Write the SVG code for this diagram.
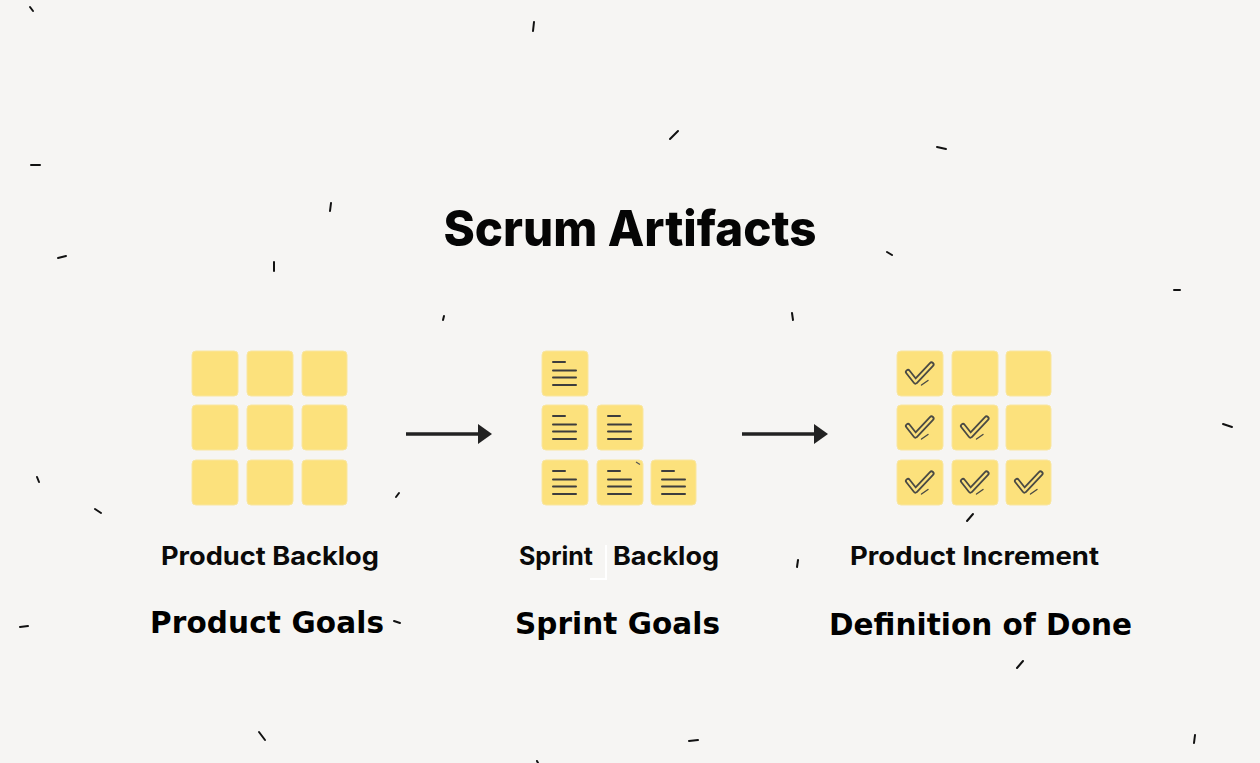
<svg xmlns="http://www.w3.org/2000/svg" width="1260" height="763" viewBox="0 0 1260 763">
<defs>
<style>
.tile{fill:#fce17c;stroke:#f9e6a0;stroke-width:1}
.ln{stroke:#3d3d3d;stroke-width:2;stroke-linecap:round}
.tk{stroke:#111;stroke-width:2;stroke-linecap:round}
.title{font-family:Inter,"Liberation Sans",sans-serif;font-weight:800;fill:#050505}
.lab{font-family:Inter,"Liberation Sans",sans-serif;font-weight:700;fill:#0a0a0a}
.goal{font-family:"DejaVu Sans",sans-serif;font-weight:700;fill:#000}
.chk{fill:none;stroke:#4a4a44;stroke-width:6;stroke-linecap:round;stroke-linejoin:round}
.chki{fill:none;stroke:#fce17c;stroke-width:2.4;stroke-linecap:round;stroke-linejoin:round}
.conn{stroke:#222;stroke-width:3.5}
</style>
<symbol id="lines" overflow="visible">
<line class="ln" x1="11" y1="11" x2="23" y2="11"/>
<line class="ln" x1="11" y1="19.5" x2="34" y2="19.5"/>
<line class="ln" x1="11" y1="26.5" x2="34" y2="26.5"/>
<line class="ln" x1="11" y1="34" x2="34" y2="34"/>
</symbol>
<symbol id="check" overflow="visible">
<path class="chk" d="M11 21 L18.5 30.5 L34.5 13.5"/>
<path class="chki" d="M11 21 L18.5 30.5 L34.5 13.5"/>
<line x1="24.5" y1="34" x2="31" y2="29.5" stroke="#4a4a44" stroke-width="1.4" stroke-linecap="round"/>
</symbol>
<marker id="ah" viewBox="0 0 14 20" refX="0" refY="10" markerWidth="14" markerHeight="20" orient="auto" markerUnits="userSpaceOnUse">
<path d="M0 0 L14 10 L0 20 Z" fill="#222"/>
</marker>
</defs>
<rect width="1260" height="763" fill="#f6f5f3"/>

<g id="decor">
<line class="tk" x1="30" y1="7" x2="33" y2="11"/>
<line class="tk" x1="534" y1="22" x2="533" y2="31"/>
<line class="tk" x1="670" y1="139" x2="678" y2="131"/>
<line class="tk" x1="31" y1="165" x2="40" y2="165"/>
<line class="tk" x1="937" y1="147" x2="946" y2="149"/>
<line class="tk" x1="331" y1="203" x2="330" y2="211"/>
<line class="tk" x1="58" y1="258" x2="66" y2="256"/>
<line class="tk" x1="274" y1="262" x2="274" y2="271"/>
<line class="tk" x1="887" y1="252" x2="892" y2="255" stroke-width="1.5"/>
<line class="tk" x1="1174" y1="290" x2="1180" y2="290" stroke-width="1.5"/>
<line class="tk" x1="444" y1="316" x2="443" y2="320" stroke-width="1.5"/>
<line class="tk" x1="792" y1="313" x2="793" y2="320" stroke-width="1.5"/>
<line class="tk" x1="1223" y1="424" x2="1232" y2="427"/>
<line class="tk" x1="37" y1="477" x2="39" y2="482" stroke-width="1.5"/>
<line class="tk" x1="95" y1="509" x2="101" y2="513"/>
<line class="tk" x1="396" y1="497" x2="399" y2="493" stroke-width="1.5"/>
<line class="tk" x1="967" y1="521" x2="973" y2="514"/>
<line class="tk" x1="798" y1="560" x2="797" y2="567"/>
<line class="tk" x1="20" y1="627" x2="28" y2="626"/>
<line class="tk" x1="394" y1="621" x2="400" y2="623" stroke-width="1.5"/>
<line class="tk" x1="1017" y1="668" x2="1023" y2="661"/>
<line class="tk" x1="259" y1="732" x2="265" y2="740"/>
<line class="tk" x1="689" y1="741" x2="698" y2="740"/>
<line class="tk" x1="1195" y1="735" x2="1194" y2="743"/>
<line class="tk" x1="537" y1="761" x2="538" y2="763" stroke-width="1.5"/>
<polyline points="590,579 606,579 606,545" fill="none" stroke="#ffffff" stroke-width="2"/>
</g>

<text class="title" x="630" y="246" text-anchor="middle" font-size="49" textLength="373" lengthAdjust="spacingAndGlyphs">Scrum Artifacts</text>

<g id="product-backlog">
<rect class="tile" x="192" y="351" width="46" height="45" rx="4"/>
<rect class="tile" x="247" y="351" width="46" height="45" rx="4"/>
<rect class="tile" x="302" y="351" width="45" height="45" rx="4"/>
<rect class="tile" x="192" y="405" width="46" height="45" rx="4"/>
<rect class="tile" x="247" y="405" width="46" height="45" rx="4"/>
<rect class="tile" x="302" y="405" width="45" height="45" rx="4"/>
<rect class="tile" x="192" y="460" width="46" height="45" rx="4"/>
<rect class="tile" x="247" y="460" width="46" height="45" rx="4"/>
<rect class="tile" x="302" y="460" width="45" height="45" rx="4"/>
<text class="lab" x="161" y="565" font-size="25" textLength="218" lengthAdjust="spacingAndGlyphs">Product Backlog</text>
<text class="goal" x="150" y="633" font-size="29.5" textLength="234" lengthAdjust="spacing">Product Goals</text>
</g>

<g id="sprint-backlog">
<rect class="tile" x="542" y="351" width="46" height="45" rx="4"/>
<use href="#lines" x="542" y="351"/>
<rect class="tile" x="542" y="405" width="46" height="45" rx="4"/>
<use href="#lines" x="542" y="405"/>
<rect class="tile" x="597" y="405" width="46" height="45" rx="4"/>
<use href="#lines" x="597" y="405"/>
<rect class="tile" x="542" y="460" width="46" height="45" rx="4"/>
<use href="#lines" x="542" y="460"/>
<rect class="tile" x="597" y="460" width="46" height="45" rx="4"/>
<use href="#lines" x="597" y="460"/>
<line x1="636" y1="462" x2="640" y2="464.5" stroke="#555" stroke-width="1.2"/>
<rect class="tile" x="651" y="460" width="45" height="45" rx="4"/>
<use href="#lines" x="651" y="460"/>
<text class="lab" x="519" y="565" font-size="25">Sprint</text>
<text class="lab" x="613" y="565" font-size="25" textLength="106" lengthAdjust="spacingAndGlyphs">Backlog</text>
<text class="goal" x="515" y="634" font-size="29.5" textLength="205" lengthAdjust="spacing">Sprint Goals</text>
</g>

<g id="product-increment">
<rect class="tile" x="897" y="351" width="46" height="45" rx="4"/>
<use href="#check" x="897" y="351"/>
<rect class="tile" x="952" y="351" width="46" height="45" rx="4"/>
<rect class="tile" x="1006" y="351" width="45" height="45" rx="4"/>
<rect class="tile" x="897" y="405" width="46" height="45" rx="4"/>
<use href="#check" x="897" y="405"/>
<rect class="tile" x="952" y="405" width="46" height="45" rx="4"/>
<use href="#check" x="952" y="405"/>
<rect class="tile" x="1006" y="405" width="45" height="45" rx="4"/>
<rect class="tile" x="897" y="460" width="46" height="45" rx="4"/>
<use href="#check" x="897" y="460"/>
<rect class="tile" x="952" y="460" width="46" height="45" rx="4"/>
<use href="#check" x="952" y="460"/>
<rect class="tile" x="1006" y="460" width="45" height="45" rx="4"/>
<use href="#check" x="1006" y="460"/>
<text class="lab" x="850" y="565" font-size="25" textLength="249" lengthAdjust="spacingAndGlyphs">Product Increment</text>
<text class="goal" x="829" y="635" font-size="29.5" textLength="303" lengthAdjust="spacing">Definition of Done</text>
</g>

<g id="connectors">
<line class="conn" x1="406" y1="434" x2="478" y2="434" marker-end="url(#ah)"/>
<line class="conn" x1="742" y1="434" x2="814" y2="434" marker-end="url(#ah)"/>
</g>
</svg>
